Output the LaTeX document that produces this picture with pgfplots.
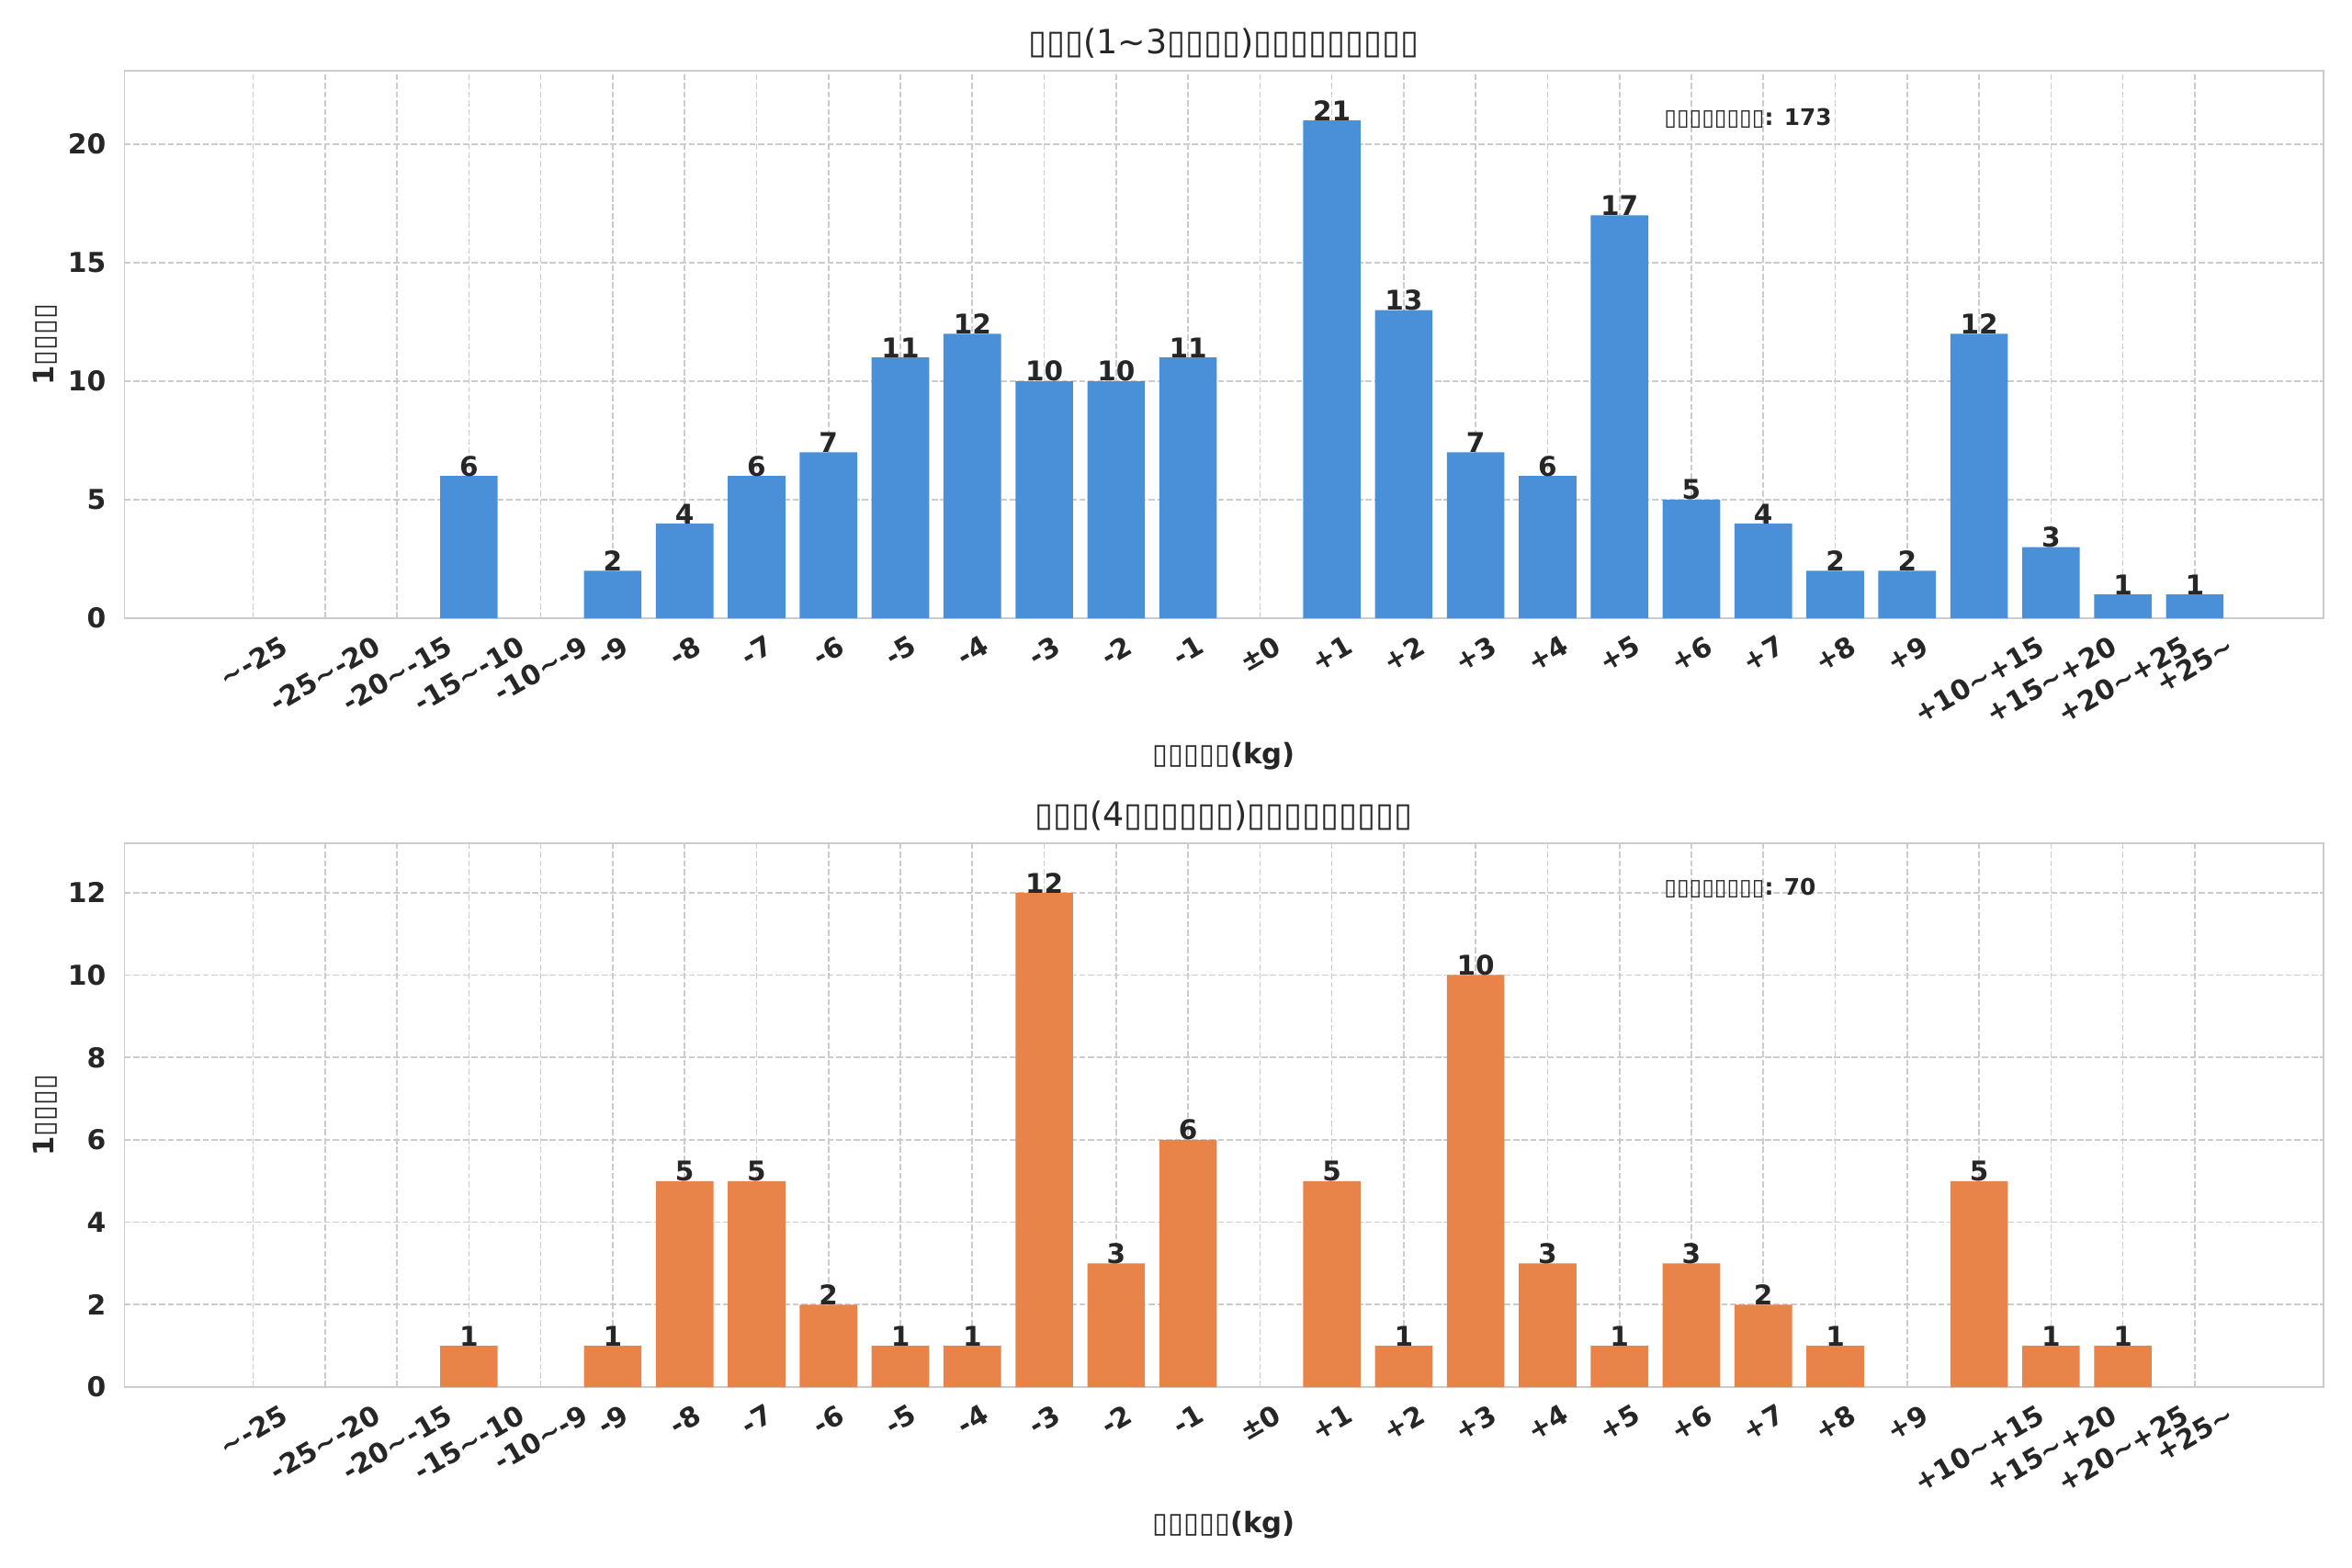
\documentclass[border=0pt]{standalone}
\usepackage{fontspec}
\setmainfont{DejaVu Sans}
\usepackage{pgfplots}
\pgfplotsset{compat=1.18}
\definecolor{txt}{HTML}{262626}
\definecolor{gridc}{HTML}{CCCCCC}
\definecolor{bblue}{HTML}{4A90D9}
\definecolor{borange}{HTML}{E8834A}
\newcommand\R[1]{\rotatebox{30}{#1}}
\newcommand\T{▯}
\newcommand\tl{\textasciitilde}
\pgfplotsset{
 hist/.style={
  scale only axis, width=1013.5pt,
  xmin=-1.79, xmax=28.79, ymin=0,
  xtick={0,...,27},
  xticklabels={\R{\tl-25}, \R{-25\tl-20}, \R{-20\tl-15}, \R{-15\tl-10}, \R{-10\tl-9}, \R{-9}, \R{-8}, \R{-7}, \R{-6}, \R{-5}, \R{-4}, \R{-3}, \R{-2}, \R{-1}, \R{±0}, \R{+1}, \R{+2}, \R{+3}, \R{+4}, \R{+5}, \R{+6}, \R{+7}, \R{+8}, \R{+9}, \R{+10\tl+15}, \R{+15\tl+20}, \R{+20\tl+25}, \R{+25\tl}},
  axis line style={gridc, line width=0.8pt},
  major tick length=0pt,
  xmajorgrids, ymajorgrids,
  grid style={gridc, line width=0.7pt, dash pattern=on 2.8pt off 1.2pt},
  ticklabel style={font=\fontsize{12.6}{14}\selectfont\bfseries, text=txt},
  xticklabel style={anchor=north, yshift=-4pt},
  yticklabel style={xshift=-5pt},
  /pgf/number format/assume math mode=true,
  ybar, bar width=0.8, bar shift=0pt,
  nodes near coords,
  nodes near coords style={font=\fontsize{12.5}{14}\selectfont\bfseries, text=txt, anchor=south, inner sep=0pt, yshift=-0.3pt},
  title style={at={(0.5,1)}, anchor=center, yshift=6.5pt, font=\fontsize{15.4}{18}\selectfont, text=txt},
  xlabel style={at={(0.5,0)}, anchor=center, yshift=-63.5pt, font=\fontsize{13}{15}\selectfont\bfseries, text=txt},
  ylabel style={at={(0,0.5)}, anchor=center, yshift=36.6pt, font=\fontsize{13}{15}\selectfont\bfseries, text=txt},
 }
}
\begin{document}
\begin{tikzpicture}
\useasboundingbox (0,0) rectangle (1084pt,722.8pt);
\begin{axis}[hist, at={(57.37pt,437.8pt)}, anchor=south west, height=252.4pt,
  ymax=23.1, ytick={0,5,10,15,20},
  title={\T\T\T(1\tl3\T\T\T\T)\T\T\T\T\T\T\T\T\T},
  xlabel={\T\T\T\T\T(kg)}, ylabel={1\T\T\T\T}]
\addplot[fill=bblue, draw=none] coordinates {
 (3,6) (5,2) (6,4) (7,6) (8,7) (9,11) (10,12) (11,10) (12,10) (13,11)
 (15,21) (16,13) (17,7) (18,6) (19,17) (20,5) (21,4) (22,2) (23,2)
 (24,12) (25,3) (26,1) (27,1)};
\node[anchor=west, font=\fontsize{10.5}{12}\selectfont\bfseries, text=txt, inner sep=0pt] at (rel axis cs:0.7,0.913) {\T\T\T\T\T\T\T\T: 173};
\end{axis}
\begin{axis}[hist, at={(57.37pt,83.4pt)}, anchor=south west, height=250.7pt,
  ymax=13.2, ytick={0,2,4,6,8,10,12},
  title={\T\T\T(4\T\T\T\T\T\T)\T\T\T\T\T\T\T\T\T},
  xlabel={\T\T\T\T\T(kg)}, ylabel={1\T\T\T\T}]
\addplot[fill=borange, draw=none] coordinates {
 (3,1) (5,1) (6,5) (7,5) (8,2) (9,1) (10,1) (11,12) (12,3) (13,6)
 (15,5) (16,1) (17,10) (18,3) (19,1) (20,3) (21,2) (22,1)
 (24,5) (25,1) (26,1)};
\node[anchor=west, font=\fontsize{10.5}{12}\selectfont\bfseries, text=txt, inner sep=0pt] at (rel axis cs:0.7,0.918) {\T\T\T\T\T\T\T\T: 70};
\end{axis}
\end{tikzpicture}
\end{document}
